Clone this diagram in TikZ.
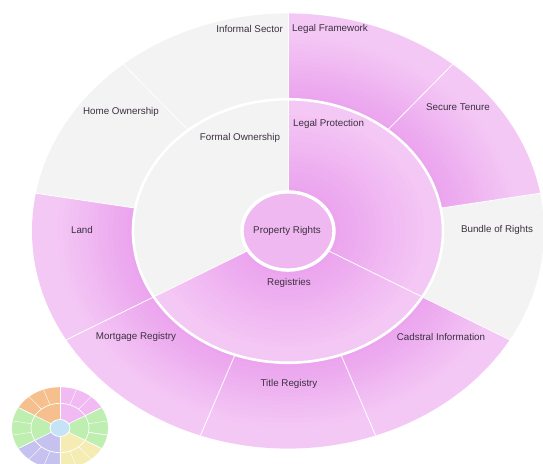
\documentclass[tikz,border=0pt]{standalone}
\usepackage{fontspec}
\setmainfont{Liberation Sans}

\definecolor{pinklight}{RGB}{244,200,245}
\definecolor{pinkdark}{RGB}{235,164,238}
\definecolor{pinkcore}{RGB}{239,184,241}
\definecolor{greyfill}{RGB}{243,243,243}
\definecolor{labelgrey}{RGB}{60,48,64}
\definecolor{minipink}{RGB}{241,186,243}
\definecolor{miniorange}{RGB}{246,192,142}
\definecolor{minigreen}{RGB}{190,238,176}
\definecolor{minilav}{RGB}{198,194,240}
\definecolor{miniyellow}{RGB}{245,236,180}
\definecolor{miniblue}{RGB}{198,226,245}

\tikzset{
  lbl/.style={font=\fontsize{9.8}{11}\selectfont, text=labelgrey, inner sep=1pt},
  sep/.style={white, line width=0.8pt},
  ringsep/.style={white, line width=2.6pt},
}

% start angle, end angle, inner radius, outer radius
\newcommand{\ringpart}[4]{(#1:#3) arc[start angle=#1, end angle=#2, radius=#3] -- (#2:#4) arc[start angle=#2, end angle=#1, radius=#4] -- cycle}

\begin{document}
\begin{tikzpicture}[x=1pt, y=1pt]
  \useasboundingbox (-288,-232) rectangle (255,231);

  % big sunburst
  \begin{scope}[yscale=0.85]
    % outer ring
    \fill[greyfill] \ringpart{10}{-30}{155}{256};
    \fill[greyfill] \ringpart{90}{170}{155}{256};
    \foreach \a/\b in {90/50, 50/10, -30/-70, -70/-110, -110/-150, -150/-190} {
      \fill[pinklight] \ringpart{\a}{\b}{155}{256};
      \foreach \r [evaluate=\r as \t using {int(100*(230-\r)/75)}] in {155,160,...,225}
        \fill[pinkdark!\t!pinklight] \ringpart{\a}{\b}{\r}{\r+6};
    }
    % inner ring
    \fill[greyfill] \ringpart{90}{210}{46}{155};
    \foreach \a/\b in {-30/90, 210/330} {
      \fill[pinklight] \ringpart{\a}{\b}{46}{155};
      \foreach \r [evaluate=\r as \t using {int(100*(140-\r)/94)}] in {46,52,...,136}
        \fill[pinkdark!\t!pinklight] \ringpart{\a}{\b}{\r}{\r+7};
    }
    % centre
    \fill[pinkcore] (0,0) circle[radius=46];

    \foreach \a in {90,50,10,-30,-70,-110,-150,170,130}
      \draw[sep] (\a:155) -- (\a:256);
    \foreach \a in {90,-30,210}
      \draw[sep] (\a:46) -- (\a:155);
    \draw[ringsep] (0,0) circle[radius=155];
    \draw[ringsep, line width=3.4pt] (0,0) circle[radius=46];
  \end{scope}

  % small wheel
  \begin{scope}[shift={(-228,-197)}, yscale=0.85]
    \foreach \a/\b/\c in {30/90/minipink, 90/150/miniorange, 150/210/minigreen,
                          210/270/minilav, 270/330/miniyellow, -30/30/minigreen}
      \fill[\c] \ringpart{\a}{\b}{10}{48};
    \fill[miniblue] (0,0) circle[radius=10];
    \foreach \a in {-30,30,...,270}
      \draw[white, line width=0.6pt] (\a:10) -- (\a:48);
    \foreach \a in {-10,10,...,350}
      \draw[white, line width=0.4pt] (\a:29) -- (\a:48);
    \draw[white, line width=0.7pt] (0,0) circle[radius=29];
    \draw[white, line width=0.8pt] (0,0) circle[radius=10];
  \end{scope}

  % labels
  \node[lbl] (propertyrights) at (-1,0) {Property Rights};
  \node[lbl, anchor=west] (legalprotection) at (4,107) {Legal Protection};
  \node[lbl] (formalownership) at (-48,93) {Formal Ownership};
  \node[lbl] (registries) at (1,-52) {Registries};

  \node[lbl, anchor=east] (informalsector) at (-4,202) {Informal Sector};
  \node[lbl, anchor=west] (legalframework) at (3,202) {Legal Framework};
  \node[lbl] (securetenure) at (170,124) {Secure Tenure};
  \node[lbl] (bundlerights) at (209,1) {Bundle of Rights};
  \node[lbl] (cadstralinfo) at (153,-106) {Cadstral Information};
  \node[lbl] (titleregistry) at (1,-153) {Title Registry};
  \node[lbl] (mortgageregistry) at (-152,-106) {Mortgage Registry};
  \node[lbl] (land) at (-206,1) {Land};
  \node[lbl] (homeownership) at (-167,119) {Home Ownership};
\end{tikzpicture}
\end{document}
